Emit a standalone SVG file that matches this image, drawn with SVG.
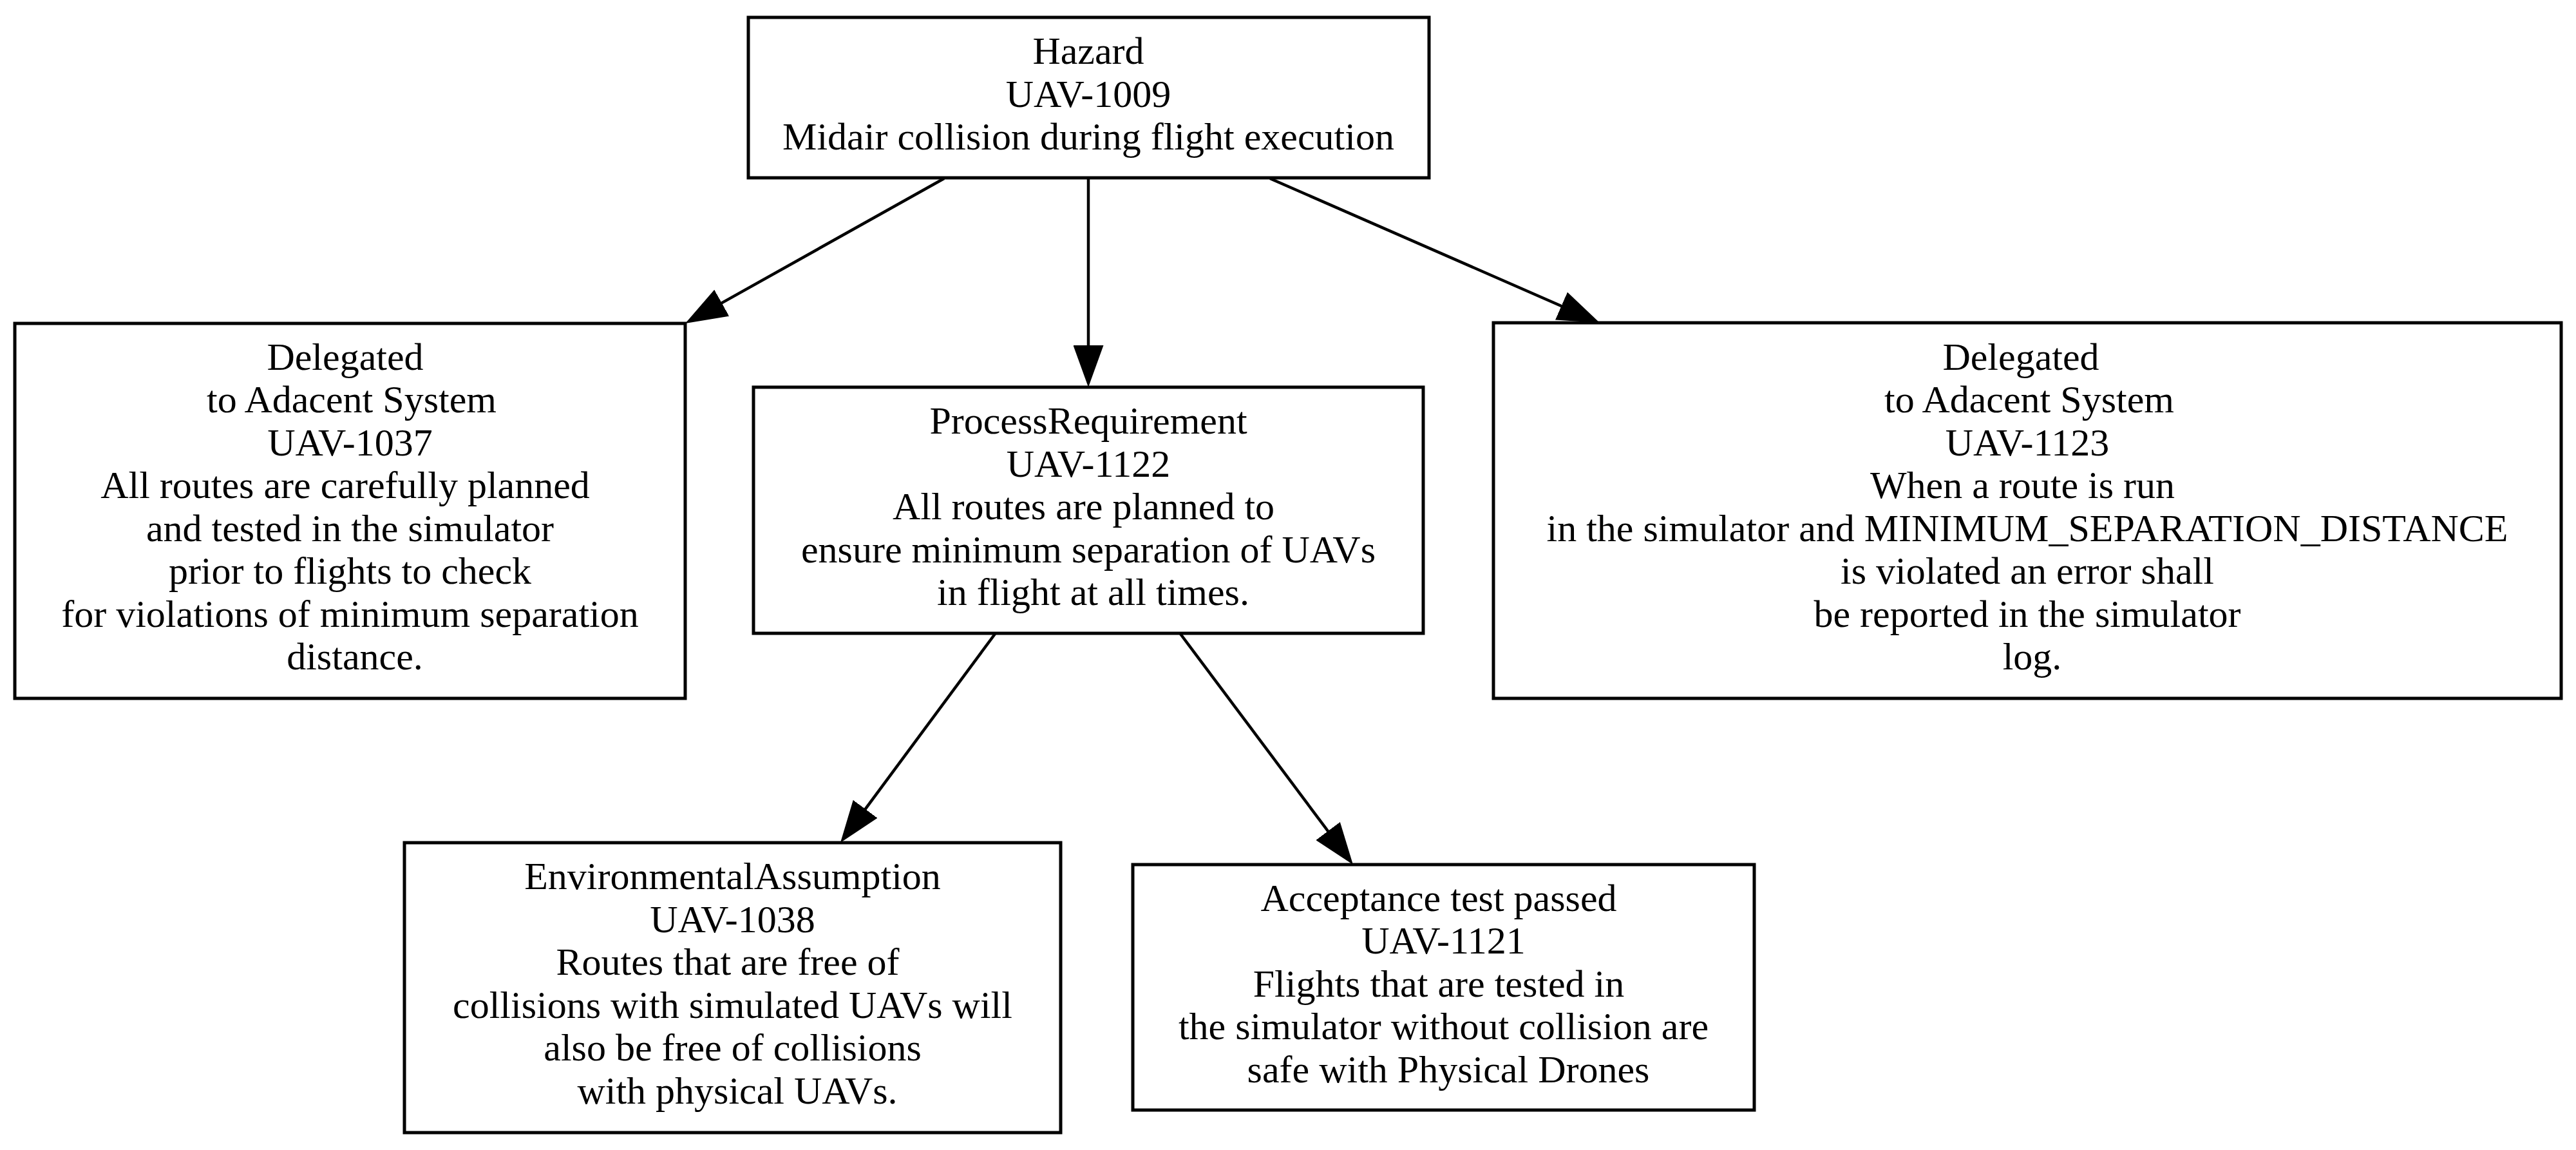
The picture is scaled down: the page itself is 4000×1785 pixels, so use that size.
<svg xmlns="http://www.w3.org/2000/svg" width="4000" height="1785" viewBox="0 0 4000 1785">
<style>
.box{fill:#ffffff;stroke:#000000;stroke-width:5}
.lbl{font-family:"Liberation Serif","Times New Roman",serif;font-size:60px;fill:#000000;text-anchor:middle}
.edge{fill:none;stroke:#000000;stroke-width:4.5}
</style>
<defs>
<marker id="arrow" viewBox="0 0 65 47" refX="10" refY="23.5" markerWidth="65" markerHeight="47" markerUnits="userSpaceOnUse" orient="auto">
<path d="M0,0 L65,23.5 L0,47 z" fill="#000000"/>
</marker>
</defs>
<rect x="0" y="0" width="4000" height="1785" fill="#ffffff"/>
<g id="connectors">
<line class="edge" x1="1466" y1="277" x2="1112" y2="475.1" marker-end="url(#arrow)"/>
<line class="edge" x1="1690" y1="277" x2="1690" y2="546" marker-end="url(#arrow)"/>
<line class="edge" x1="1972" y1="277" x2="2433.6" y2="479" marker-end="url(#arrow)"/>
<line class="edge" x1="1545" y1="984" x2="1337.7" y2="1263.8" marker-end="url(#arrow)"/>
<line class="edge" x1="1833" y1="984" x2="2068" y2="1298" marker-end="url(#arrow)"/>
</g>
<g id="node-hazard">
<rect class="box" x="1162" y="27" width="1057" height="249"/>
<text class="lbl"><tspan x="1690" y="99">Hazard</tspan><tspan x="1690" y="165.5">UAV-1009</tspan><tspan x="1690" y="232">Midair collision during flight execution</tspan></text>
</g>
<g id="node-uav1037">
<rect class="box" x="23" y="502" width="1041" height="582"/>
<text class="lbl"><tspan x="536" y="573.5">Delegated</tspan><tspan x="546" y="640">to Adacent System</tspan><tspan x="543.5" y="706.5">UAV-1037</tspan><tspan x="536" y="773">All routes are carefully planned</tspan><tspan x="543.5" y="839.5">and tested in the simulator</tspan><tspan x="543.5" y="906">prior to flights to check</tspan><tspan x="543.5" y="972.5">for violations of minimum separation</tspan><tspan x="551" y="1039">distance.</tspan></text>
</g>
<g id="node-uav1122">
<rect class="box" x="1170" y="601" width="1040" height="382"/>
<text class="lbl"><tspan x="1690" y="673">ProcessRequirement</tspan><tspan x="1690" y="739.5">UAV-1122</tspan><tspan x="1682.5" y="806">All routes are planned to</tspan><tspan x="1690" y="872.5">ensure minimum separation of UAVs</tspan><tspan x="1697.5" y="939">in flight at all times.</tspan></text>
</g>
<g id="node-uav1123">
<rect class="box" x="2319" y="501" width="1658" height="583"/>
<text class="lbl"><tspan x="3138" y="573.5">Delegated</tspan><tspan x="3151" y="640">to Adacent System</tspan><tspan x="3148" y="706.5">UAV-1123</tspan><tspan x="3140.5" y="773">When a route is run</tspan><tspan x="3148" y="839.5">in the simulator and MINIMUM_SEPARATION_DISTANCE</tspan><tspan x="3148" y="906">is violated an error shall</tspan><tspan x="3148" y="972.5">be reported in the simulator</tspan><tspan x="3155.5" y="1039">log.</tspan></text>
</g>
<g id="node-uav1038">
<rect class="box" x="628" y="1308" width="1019" height="450"/>
<text class="lbl"><tspan x="1137.5" y="1380">EnvironmentalAssumption</tspan><tspan x="1137.5" y="1446.5">UAV-1038</tspan><tspan x="1130" y="1513">Routes that are free of</tspan><tspan x="1137.5" y="1579.5">collisions with simulated UAVs will</tspan><tspan x="1137.5" y="1646">also be free of collisions</tspan><tspan x="1145" y="1712.5">with physical UAVs.</tspan></text>
</g>
<g id="node-uav1121">
<rect class="box" x="1759" y="1342" width="965" height="381"/>
<text class="lbl"><tspan x="2234" y="1413.5">Acceptance test passed</tspan><tspan x="2241.5" y="1480">UAV-1121</tspan><tspan x="2234" y="1546.5">Flights that are tested in</tspan><tspan x="2241.5" y="1613">the simulator without collision are</tspan><tspan x="2249" y="1679.5">safe with Physical Drones</tspan></text>
</g>
</svg>
